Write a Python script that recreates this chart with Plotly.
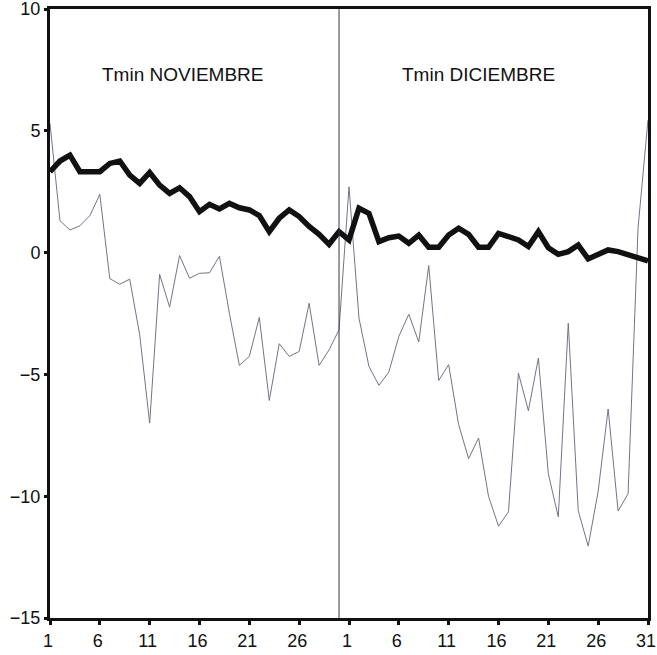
import plotly.graph_objects as go

# ---- data ----
days_nov = list(range(1, 31))
days_dec = list(range(1, 32))
day_labels = [str(d) for d in days_nov] + [str(d) for d in days_dec]
x_index = list(range(len(day_labels)))

tmin_mean = [3.32, 3.76, 4.0, 3.32, 3.32, 3.32, 3.66, 3.76, 3.18, 2.84,
             3.29, 2.77, 2.43, 2.66, 2.3, 1.68, 1.98, 1.79, 2.02, 1.84,
             1.75, 1.52, 0.86, 1.41, 1.75, 1.48, 1.07, 0.75, 0.34, 0.86,
             0.52, 1.82, 1.61, 0.45, 0.61, 0.68, 0.38, 0.72, 0.22, 0.22,
             0.72, 1.0, 0.75, 0.22, 0.22, 0.79, 0.66, 0.52, 0.25, 0.86,
             0.2, -0.07, 0.04, 0.31, -0.26, -0.1, 0.11, 0.04, -0.07, -0.23,
             -0.34]

tmin_year = [5.3, 1.31, 0.93, 1.1, 1.52, 2.39, -1.07, -1.3, -1.09, -3.37,
             -7.0, -0.89, -2.24, -0.12, -1.05, -0.85, -0.83, -0.15, -2.49, -4.63,
             -4.26, -2.66, -6.07, -3.74, -4.26, -4.06, -2.08, -4.63, -3.99, -3.17,
             2.7, -2.69, -4.67, -5.45, -4.9, -3.44, -2.53, -3.67, -0.53, -5.25,
             -4.6, -7.06, -8.46, -7.61, -10.0, -11.23, -10.64, -4.95, -6.49, -4.33,
             -9.08, -10.85, -2.9, -10.59, -12.05, -9.8, -6.42, -10.61, -9.9, 1.0,
             5.45]

tick_idx = x_index[::5]
tick_txt = [day_labels[i] for i in tick_idx]
y_ticks = [-15, -10, -5, 0, 5, 10]
panel_titles = ["Tmin NOVIEMBRE", "Tmin DICIEMBRE"]

fig = go.Figure()
fig.add_trace(go.Scatter(x=x_index, y=tmin_year, mode="lines",
                         line=dict(color="#7a7088", width=1), showlegend=False))
fig.add_trace(go.Scatter(x=x_index, y=tmin_mean, mode="lines",
                         line=dict(color="#111111", width=5.5), showlegend=False))

# separator between months (last day of November)
sep_x = len(days_nov) - 1
fig.add_shape(type="line", xref="x", yref="y", x0=sep_x, x1=sep_x, y0=-15, y1=10,
              line=dict(color="#3a3550", width=1))

fig.add_annotation(x=13.3, y=7.3, xref="x", yref="y", text=panel_titles[0],
                   showarrow=False, font=dict(size=19, color="#111"))
fig.add_annotation(x=43.0, y=7.3, xref="x", yref="y", text=panel_titles[1],
                   showarrow=False, font=dict(size=19, color="#111"))

fig.update_layout(
    width=657, height=655,
    margin=dict(l=50, r=9, t=9, b=37, autoexpand=False),
    paper_bgcolor="white", plot_bgcolor="white",
    font=dict(family="Liberation Sans, Arial, sans-serif", color="#111"),
)
fig.update_xaxes(range=[0, 60], tickvals=tick_idx, ticktext=tick_txt,
                 automargin=False, ticklabeloverflow="allow", ticklabelshift=-2,
                 showgrid=False, zeroline=False, showline=True, linecolor="#111",
                 linewidth=3, mirror=True, ticks="outside", ticklen=4, tickwidth=3,
                 tickcolor="#111", tickfont=dict(size=18))
fig.update_yaxes(range=[-15, 10], tickvals=y_ticks, automargin=False,
                 ticklabeloverflow="allow",
                 showgrid=False, zeroline=False, showline=True, linecolor="#111",
                 linewidth=3, mirror=True, ticks="outside", ticklen=3, tickwidth=3,
                 tickcolor="#111", tickfont=dict(size=18))

fig.write_html("out.html", config={"displayModeBar": False},
               post_script="document.body.style.margin='0';document.body.style.overflow='hidden';")
